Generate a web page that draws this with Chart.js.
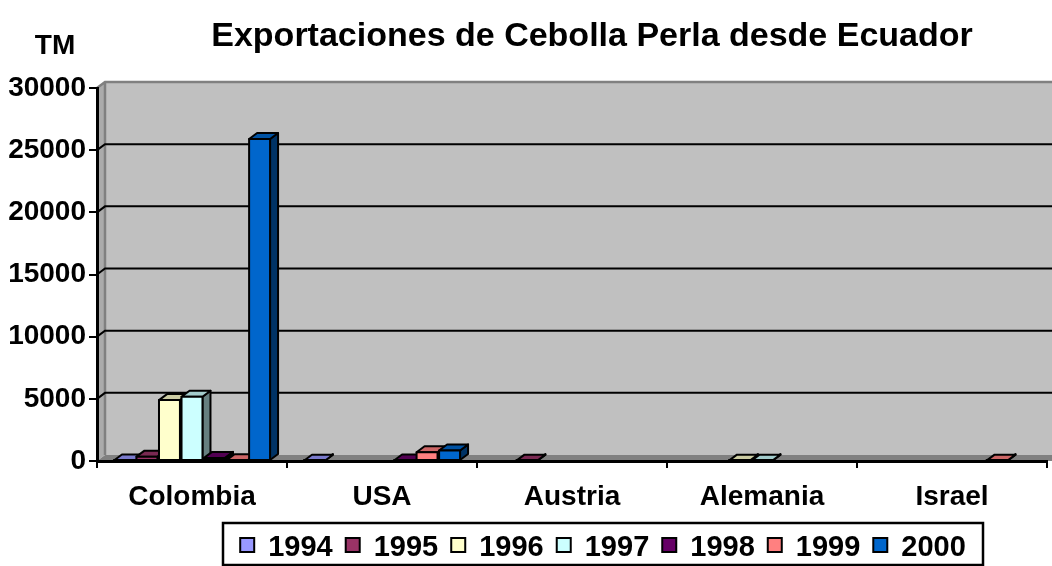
<!DOCTYPE html>
<html>
<head>
<meta charset="utf-8">
<title>Exportaciones de Cebolla Perla desde Ecuador</title>
<script src="https://cdn.jsdelivr.net/npm/chart.js@4.4.1/dist/chart.umd.min.js"></script>
<style>
  html, body { margin: 0; padding: 0; background: #fff; }
</style>
</head>
<body>
<canvas id="cebolla" width="1052" height="566"></canvas>
<script>
// Datos: toneladas métricas exportadas por país de destino y año
var paises = ["Colombia", "USA", "Austria", "Alemania", "Israel"];
var anios = ["1994", "1995", "1996", "1997", "1998", "1999", "2000"];
var colores = ["#9999FF", "#993366", "#FFFFCC", "#CCFFFF", "#660066", "#FF8080", "#0066CC"];
var tm1994 = [40, 20, null, null, null];
var tm1995 = [350, null, 30, null, null];
var tm1996 = [4900, null, null, 30, null];
var tm1997 = [5170, null, null, 30, null];
var tm1998 = [250, 40, null, null, null];
var tm1999 = [60, 700, null, null, 30];
var tm2000 = [25900, 850, null, null, null];
var series = [tm1994, tm1995, tm1996, tm1997, tm1998, tm1999, tm2000];
var ticksY = [0, 5000, 10000, 15000, 20000, 25000, 30000];

var titulo = "Exportaciones de Cebolla Perla desde Ecuador";
var unidad = "TM";

// profundidad del efecto 3D
var DX = 8, DY = 6;
var FUENTE = "'Liberation Sans', Arial, sans-serif";

function sombra(hex, f) {
  var n = parseInt(hex.slice(1), 16);
  var r = Math.round(((n >> 16) & 255) * f);
  var g = Math.round(((n >> 8) & 255) * f);
  var b = Math.round((n & 255) * f);
  return "rgb(" + r + "," + g + "," + b + ")";
}

function cara(ctx, pts, relleno, borde) {
  ctx.beginPath();
  ctx.moveTo(pts[0][0], pts[0][1]);
  for (var i = 1; i < pts.length; i++) ctx.lineTo(pts[i][0], pts[i][1]);
  ctx.closePath();
  ctx.fillStyle = relleno;
  ctx.fill();
  if (borde !== false) ctx.stroke();
}

// pared del fondo, pared lateral, piso y líneas de división
var paredes = {
  id: "paredes",
  beforeDraw: function (chart) {
    var ctx = chart.ctx, a = chart.chartArea, y = chart.scales.y;
    ctx.save();
    ctx.fillStyle = "#C0C0C0";
    ctx.fillRect(a.left + DX, a.top - DY, a.right - a.left + 10, a.bottom - a.top);
    cara(ctx, [[a.left, a.top], [a.left + DX, a.top - DY], [a.left + DX, a.bottom - DY], [a.left, a.bottom]], "#ABABAB", false);
    cara(ctx, [[a.left, a.bottom], [a.left + DX, a.bottom - DY], [a.right + DX + 10, a.bottom - DY], [a.right + 10, a.bottom]], "#808080", false);

    ctx.strokeStyle = "#808080";
    ctx.lineWidth = 2.5;
    ctx.beginPath();
    ctx.moveTo(a.left, a.top);
    ctx.lineTo(a.left + DX, a.top - DY);
    ctx.lineTo(a.right + DX + 10, a.top - DY);
    ctx.moveTo(a.left + DX, a.top - DY);
    ctx.lineTo(a.left + DX, a.bottom - DY);
    ctx.stroke();

    ctx.strokeStyle = "#000";
    ctx.lineWidth = 2;
    y.ticks.forEach(function (t) {
      if (t.value <= y.min || t.value >= y.max) return;
      var py = y.getPixelForValue(t.value);
      ctx.beginPath();
      ctx.moveTo(a.left, py);
      ctx.lineTo(a.left + DX, py - DY);
      ctx.lineTo(a.right + DX + 10, py - DY);
      ctx.stroke();
    });
    ctx.restore();
  }
};

// columnas con cara frontal, superior y lateral
var barras3d = {
  id: "barras3d",
  beforeDatasetsDraw: function (chart) {
    var ctx = chart.ctx, lista = [];
    chart.data.datasets.forEach(function (ds, i) {
      var meta = chart.getDatasetMeta(i);
      meta.data.forEach(function (bar, j) {
        if (ds.data[j] == null) return;
        lista.push({ bar: bar, color: ds.backgroundColor });
      });
    });
    lista.sort(function (p, q) { return p.bar.x - q.bar.x; });
    ctx.save();
    ctx.lineWidth = 2;
    ctx.strokeStyle = "#000";
    ctx.lineJoin = "round";
    lista.forEach(function (it) {
      var b = it.bar;
      var xl = b.x - b.width / 2, xr = b.x + b.width / 2, yt = b.y, yb = b.base;
      cara(ctx, [[xr, yt], [xr + DX, yt - DY], [xr + DX, yb - DY], [xr, yb]], sombra(it.color, 0.5));
      cara(ctx, [[xl, yt], [xl + DX, yt - DY], [xr + DX, yt - DY], [xr, yt]], sombra(it.color, 0.8));
      cara(ctx, [[xl, yt], [xr, yt], [xr, yb], [xl, yb]], it.color);
    });
    ctx.restore();
    return false;
  }
};

// título, unidad y leyenda con recuadro
var textos = {
  id: "textos",
  afterDraw: function (chart) {
    var ctx = chart.ctx;
    ctx.save();
    ctx.fillStyle = "#000";
    ctx.textBaseline = "alphabetic";
    ctx.textAlign = "center";
    ctx.font = "bold 34px " + FUENTE;
    ctx.fillText(titulo, 592, 46);
    ctx.font = "bold 28px " + FUENTE;
    ctx.fillText(unidad, 55, 54);

    // leyenda
    var caja = { x: 223, y: 523, w: 760, h: 42 };
    var lado = 14, hueco = 14, sep = 13;
    ctx.font = "bold 29px " + FUENTE;
    var ds = chart.data.datasets;
    var total = 0;
    ds.forEach(function (d, i) {
      total += lado + hueco + ctx.measureText(d.label).width + (i < ds.length - 1 ? sep : 0);
    });
    var x = caja.x + caja.w / 2 - total / 2;
    ctx.lineWidth = 2.5;
    ctx.strokeStyle = "#000";
    ctx.strokeRect(caja.x, caja.y, caja.w, caja.h);
    ctx.textAlign = "left";
    ctx.lineWidth = 2;
    ds.forEach(function (d) {
      ctx.fillStyle = d.backgroundColor;
      ctx.fillRect(x, 538, lado, lado);
      ctx.strokeRect(x, 538, lado, lado);
      x += lado + hueco;
      ctx.fillStyle = "#000";
      ctx.fillText(d.label, x, 556);
      x += ctx.measureText(d.label).width + sep;
    });
    ctx.restore();
  }
};

var datasets = anios.map(function (anio, i) {
  return {
    label: anio,
    data: series[i],
    backgroundColor: colores[i],
    borderWidth: 0,
    categoryPercentage: 0.83,
    barPercentage: 0.93
  };
});

new Chart(document.getElementById("cebolla"), {
  type: "bar",
  data: { labels: paises, datasets: datasets },
  plugins: [paredes, barras3d, textos],
  options: {
    responsive: false,
    animation: false,
    devicePixelRatio: 1,
    events: [],
    layout: { padding: { top: 88, right: 5, bottom: 0, left: 0 } },
    plugins: {
      legend: { display: false },
      title: { display: false },
      tooltip: { enabled: false }
    },
    scales: {
      x: {
        afterFit: function (s) { s.height = 105; },
        grid: { offset: true, drawOnChartArea: false, drawTicks: true, tickLength: 7, color: "#000", lineWidth: 2 },
        border: { display: true, color: "#000", width: 3 },
        ticks: { color: "#000", padding: 12, font: { family: FUENTE, size: 28, weight: "bold" } }
      },
      y: {
        min: 0,
        max: 30000,
        afterFit: function (s) { s.width = 97; },
        afterBuildTicks: function (s) { s.ticks = ticksY.map(function (v) { return { value: v }; }); },
        grid: { drawOnChartArea: false, tickLength: 8, color: "#000", lineWidth: 2 },
        border: { display: true, color: "#000", width: 3 },
        ticks: {
          color: "#000",
          padding: 3,
          font: { family: FUENTE, size: 28, weight: "bold" },
          callback: function (v) { return String(v); }
        }
      }
    }
  }
});
</script>
</body>
</html>
